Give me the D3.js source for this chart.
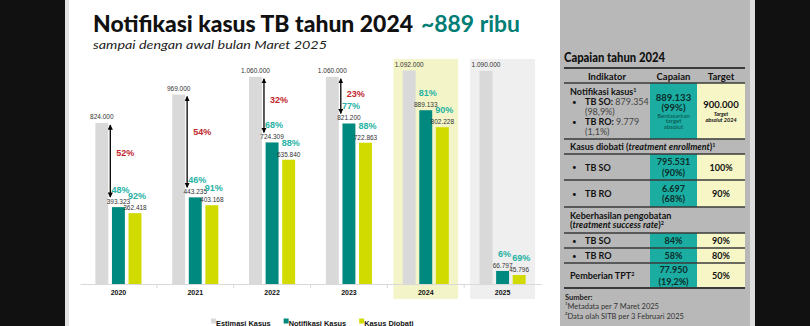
<!DOCTYPE html>
<html><head><meta charset="utf-8">
<script src="https://cdn.jsdelivr.net/npm/d3@7"></script>
<style>html,body{margin:0;padding:0;background:#111;overflow:hidden}</style>
</head><body><svg id="c" width="810" height="326"></svg>
<script>
// ---------- DATA ----------
const years = ["2020","2021","2022","2023","2024","2025"];
const estimasi = [824000, 969000, 1060000, 1060000, 1092000, 1090000];
const notifikasi = [393323, 443235, 724309, 821200, 889133, 66797];
const diobati = [362418, 403168, 635840, 722863, 802228, 45796];
const pctNotif = ["48%","46%","68%","77%","81%","6%"];
const pctDiobati = ["92%","91%","88%","88%","90%","69%"];
const gapPct = ["52%","54%","32%","23%",null,null];
const seriesNames = ["Estimasi Kasus","Notifikasi Kasus","Kasus Diobati"];
const highlightYears = ["2024","2025"];
const titleMain = "Notifikasi kasus TB tahun 2024";
const titleHighlight = "~889 ribu";
const subtitle = "sampai dengan awal bulan Maret 2025";
const tableTitle = "Capaian tahun 2024";
const tableHeader = ["Indikator","Capaian","Target"];
const notifDetail = ["TB SO:", "879.354", "(98,9%)", "TB RO:", "9.779", "(1,1%)"];
const notifCapaian = ["889.133","(99%)","Berdasarkan","target","absolut"];
const notifTarget = ["900.000","Target","absolut 2024"];
const diobatiRows = [["TB SO","795.531","(90%)","100%"],["TB RO","6.697","(68%)","90%"]];
const suksesRows = [["TB SO","84%","90%"],["TB RO","58%","80%"]];
const tptRow = ["Pemberian TPT","77.950","(19,2%)","50%"];
const sources = ["Sumber:","¹Metadata per 7 Maret 2025","²Data olah SITB per 3 Februari 2025"];

// ---------- STYLE ----------
const C = {gray:"#d9d9d9", teal:"#00897e", yellow:"#d2db00", tealTxt:"#26b2a4", red:"#c1272d",
  cellTeal:"#1badA1", cellYellow:"#f6f6c6", line:"#3a3a3a"};
const barColors = [C.gray, C.teal, C.yellow];
const FS = "'Liberation Sans', Arial, sans-serif";
const FT = "Lato, 'Noto Sans', sans-serif";

const W=810,H=326;
const svg = d3.select("#c");
svg.append("rect").attr("width",W).attr("height",H).attr("fill","#111");
svg.append("rect").attr("x",65).attr("width",495).attr("height",H).attr("fill","#e2e2e2");
svg.append("rect").attr("x",69).attr("width",491).attr("height",H).attr("fill","#fff");
svg.append("rect").attr("x",560).attr("width",190).attr("height",H).attr("fill","#b8b8b8");
svg.append("rect").attr("x",750).attr("width",5).attr("height",H).attr("fill","#dedede");

const fmt = d3.formatLocale({decimal:",",thousands:".",grouping:[3],currency:["",""]}).format(",d");

// ---------- TITLE ----------
svg.append("text").attr("x",93).attr("y",32).attr("font-family",FT).attr("font-weight",900)
  .attr("font-size",22).attr("fill","#111").attr("textLength",320).attr("lengthAdjust","spacingAndGlyphs").text(titleMain);
svg.append("text").attr("x",421).attr("y",32).attr("font-family",FT).attr("font-weight",700)
  .attr("font-size",22).attr("fill","#007d74").attr("textLength",99).attr("lengthAdjust","spacingAndGlyphs").text(titleHighlight);
svg.append("text").attr("x",93).attr("y",49).attr("font-family",FT).attr("font-style","italic")
  .attr("font-size",11).attr("fill","#222").attr("textLength",234).attr("lengthAdjust","spacingAndGlyphs").text(subtitle);

// ---------- SCALES ----------
const x = d3.scaleBand().domain(years).range([80,541]);
const xi = d3.scaleBand().domain([0,1,2]).range([x.bandwidth()*0.2, x.bandwidth()*0.8]).paddingInner(0.22);
const y = d3.scaleLinear().domain([0,1100000]).range([284,69]);

// highlight boxes
const hlColors = ["#f3f5c8","#efefef"];
svg.selectAll("rect.hl").data(highlightYears).join("rect").attr("class","hl")
  .attr("x",d=>x(d)+6).attr("width",x.bandwidth()-12).attr("y",59).attr("height",240)
  .attr("fill",(d,i)=>hlColors[i]);

// bars
const series = [estimasi, notifikasi, diobati];
const g = svg.append("g");
series.forEach((vals,s)=>{
  g.selectAll("rect.s"+s).data(vals).join("rect").attr("class","s"+s)
    .attr("x",(d,i)=>x(years[i])+xi(s)).attr("width",xi.bandwidth())
    .attr("y",d=>y(d)).attr("height",d=>y(0)-y(d)).attr("fill",barColors[s]);
  g.selectAll("text.v"+s).data(vals).join("text").attr("class","v"+s)
    .attr("x",(d,i)=>x(years[i])+xi(s)+xi.bandwidth()/2).attr("y",d=>y(d)-(s===0?4:3))
    .attr("text-anchor","middle").attr("font-family",FS).attr("font-size",6.5).attr("fill","#333")
    .text(d=>fmt(d));
});
// percent labels
[[pctNotif,notifikasi,1],[pctDiobati,diobati,2]].forEach(([lab,vals,s])=>{
  g.selectAll("text.p"+s).data(lab).join("text").attr("class","p"+s)
    .attr("x",(d,i)=>x(years[i])+xi(s)+xi.bandwidth()/2+2).attr("y",(d,i)=>y(vals[i])-14)
    .attr("text-anchor","middle").attr("font-family",FS).attr("font-weight","bold").attr("font-size",9)
    .attr("fill",C.tealTxt).text(d=>d);
});
// arrows
const defs = svg.append("defs");
defs.append("marker").attr("id","ah").attr("viewBox","0 0 10 10").attr("refX",9).attr("refY",5)
  .attr("markerWidth",4).attr("markerHeight",4).attr("orient","auto-start-reverse")
  .append("path").attr("d","M0,0 L10,5 L0,10 z").attr("fill","#000");
gapPct.forEach((p,i)=>{
  if(!p) return;
  const ax = x(years[i])+xi(0)+xi.bandwidth()+2;
  const y1 = y(estimasi[i])+2, y2 = y(notifikasi[i])-10;
  g.append("line").attr("x1",ax).attr("x2",ax).attr("y1",y1).attr("y2",y2)
    .attr("stroke","#000").attr("stroke-width",1.3)
    .attr("marker-start","url(#ah)").attr("marker-end","url(#ah)");
  g.append("text").attr("x",ax+6).attr("y",y(estimasi[i])+0.36*(y(notifikasi[i])-y(estimasi[i]))+3)
    .attr("font-family",FS).attr("font-weight","bold").attr("font-size",9).attr("fill",C.red).text(p);
});

// axis
const axisG = svg.append("g").attr("transform","translate(0,284)")
  .call(d3.axisBottom(x).tickSize(0).tickSizeOuter(0).tickPadding(6));
axisG.select(".domain").attr("stroke","#d9d9d9");
axisG.selectAll("text").attr("font-family",FS).attr("font-weight","bold").attr("font-size",7).attr("fill","#111");
axisG.selectAll("line.b").data(years.slice(1)).join("line").attr("class","b")
  .attr("x1",d=>x(d)).attr("x2",d=>x(d)).attr("y1",0).attr("y2",4).attr("stroke","#d9d9d9");

// legend
let lx = 211;
seriesNames.forEach((n,s)=>{
  svg.append("rect").attr("x",lx).attr("y",318.5).attr("width",5).attr("height",5).attr("fill",barColors[s]);
  const t = svg.append("text").attr("x",lx+5).attr("y",325.5).attr("font-family",FS).attr("font-weight","bold")
    .attr("font-size",7.4).attr("fill","#111").text(n);
  lx += 5 + t.node().getComputedTextLength() + 13;
});

// ---------- TABLE ----------
const L=564, c1=650, c2=697, R=745;
const mid1=(c1+c2)/2, mid2=(c2+R)/2;
const T = svg.append("g").attr("font-family",FT).attr("fill","#111");
T.append("text").attr("x",564).attr("y",62).attr("font-weight",900).attr("font-size",12.5)
  .attr("textLength",101).attr("lengthAdjust","spacingAndGlyphs").text(tableTitle);
// cell fills
const dataRows = [[83,139],[154,180],[180,207],[233,248],[248,263],[263,288]];
dataRows.forEach(([a,b])=>{
  T.append("rect").attr("x",c1).attr("y",a).attr("width",c2-c1).attr("height",b-a).attr("fill",C.cellTeal);
  T.append("rect").attr("x",c2).attr("y",a).attr("width",R-c2).attr("height",b-a).attr("fill",C.cellYellow);
});
[68,83,139,154,180,207,233,248,263,288].forEach((ly,i)=>{
  T.append("line").attr("x1",L).attr("x2",R).attr("y1",ly).attr("y2",ly)
    .attr("stroke",C.line).attr("stroke-width",(i===0||i===9)?2:1.3);
});
function tx(xp,yp,str,opt={}){
  const t=T.append("text").attr("x",xp).attr("y",yp).attr("font-size",opt.fs||9)
    .attr("font-weight",opt.fw||"normal").attr("text-anchor",opt.anchor||"start")
    .attr("fill",opt.fill||"#111").text(str);
  if(opt.fstyle) t.attr("font-style",opt.fstyle);
  return t;
}
tx(607,79.5,tableHeader[0],{fw:"bold",fs:9.5,anchor:"middle"});
tx(mid1,79.5,tableHeader[1],{fw:"bold",fs:9.5,anchor:"middle"});
tx(mid2,79.5,tableHeader[2],{fw:"bold",fs:9.5,anchor:"middle"});
// row 1
const n1 = tx(570,95,"Notifikasi kasus",{fw:"bold"});
n1.append("tspan").attr("font-size",5.5).attr("dy",-3.5).text("1");
tx(572,105,"•",{fs:8});
const s1 = tx(585,105,notifDetail[0],{fw:"bold"});
s1.append("tspan").attr("font-weight","normal").attr("fill","#444").text(" "+notifDetail[1]);
tx(585,115,notifDetail[2],{fill:"#444"});
tx(572,125,"•",{fs:8});
const s2 = tx(585,125,notifDetail[3],{fw:"bold"});
s2.append("tspan").attr("font-weight","normal").attr("fill","#444").text(" "+notifDetail[4]);
tx(585,135,notifDetail[5],{fill:"#444"});
tx(mid1,100.5,notifCapaian[0],{fw:"bold",fs:9.5,anchor:"middle",fill:"#0c2b29"});
tx(mid1,110.5,notifCapaian[1],{fw:"bold",fs:9.5,anchor:"middle",fill:"#0c2b29"});
tx(mid1,117.5,notifCapaian[2],{fs:6,anchor:"middle",fill:"#0a4f4a"});
tx(mid1,123,notifCapaian[3],{fs:6,anchor:"middle",fill:"#0a4f4a"});
tx(mid1,128.5,notifCapaian[4],{fs:6,anchor:"middle",fill:"#0a4f4a"});
tx(mid2,108,notifTarget[0],{fw:"bold",fs:9.5,anchor:"middle"});
tx(mid2,115.5,notifTarget[1],{fw:"bold",fs:5.5,anchor:"middle",fstyle:"italic"});
tx(mid2,121.5,notifTarget[2],{fw:"bold",fs:5.5,anchor:"middle",fstyle:"italic"});
// section 2
const k = tx(570,150,"Kasus diobati (",{fw:"bold"});
k.append("tspan").attr("font-style","italic").text("treatment enrollment");
k.append("tspan").text(")");
k.append("tspan").attr("font-size",5.5).attr("dy",-3.5).text("1");
const dY = [[154,180],[180,207]];
diobatiRows.forEach((r,i)=>{
  const [a,b]=dY[i], m=(a+b)/2;
  tx(572,m+3,"•",{fs:8});
  tx(585,m+3.5,r[0],{fw:"bold"});
  tx(mid1,m-2,r[1],{fw:"bold",fs:9,anchor:"middle",fill:"#0c2b29"});
  tx(mid1,m+8.5,r[2],{fw:"bold",fs:9,anchor:"middle",fill:"#0c2b29"});
  tx(mid2,m+3.5,r[3],{fw:"bold",fs:9,anchor:"middle"});
});
// section 3
tx(570,218.5,"Keberhasilan pengobatan",{fw:"bold"});
const ks = tx(570,228,"(",{fw:"bold"});
ks.append("tspan").attr("font-style","italic").text("treatment success rate");
ks.append("tspan").text(")");
ks.append("tspan").attr("font-size",5.5).attr("dy",-3.5).text("2");
const sY = [[233,248],[248,263]];
suksesRows.forEach((r,i)=>{
  const [a,b]=sY[i], m=(a+b)/2;
  tx(572,m+3,"•",{fs:8});
  tx(585,m+3.5,r[0],{fw:"bold"});
  tx(mid1,m+3.5,r[1],{fw:"bold",fs:9,anchor:"middle",fill:"#0c2b29"});
  tx(mid2,m+3.5,r[2],{fw:"bold",fs:9,anchor:"middle"});
});
const tp = tx(570,279,tptRow[0],{fw:"bold"});
tp.append("tspan").attr("font-size",5.5).attr("dy",-3.5).text("2");
tx(mid1,273,tptRow[1],{fw:"bold",fs:9,anchor:"middle",fill:"#0c2b29"});
tx(mid1,284.5,tptRow[2],{fw:"bold",fs:9,anchor:"middle",fill:"#0c2b29"});
tx(mid2,279,tptRow[3],{fw:"bold",fs:9,anchor:"middle"});
// sources
tx(565,300,sources[0],{fw:"bold",fs:7.5,fill:"#222"});
tx(565,309,sources[1],{fs:7.5,fill:"#333"});
tx(565,318.5,sources[2],{fs:7.5,fill:"#333"});
</script></body></html>
